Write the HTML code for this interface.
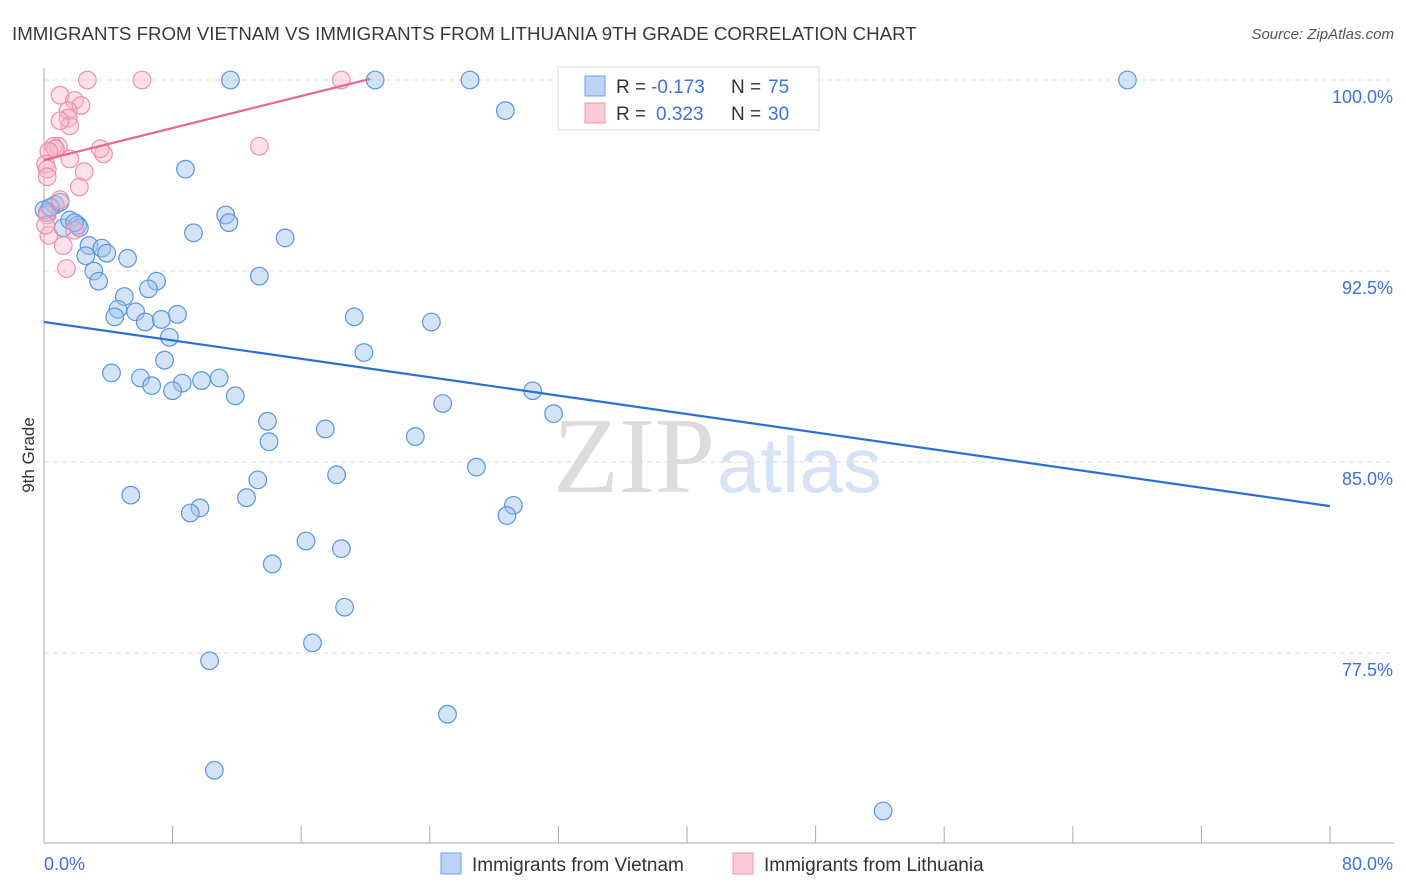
<!DOCTYPE html>
<html><head><meta charset="utf-8"><style>
body{margin:0;background:#fff;font-family:"Liberation Sans",sans-serif;}
#wrap{position:relative;width:1406px;height:892px;overflow:hidden;}
</style></head><body>
<div id="wrap">
<svg id="svg" width="1406" height="892" xmlns="http://www.w3.org/2000/svg">
<text x="12" y="40" font-size="18.7" fill="#3a3a3a">IMMIGRANTS FROM VIETNAM VS IMMIGRANTS FROM LITHUANIA 9TH GRADE CORRELATION CHART</text>
<text x="1394" y="39" font-size="15" fill="#555" font-style="italic" text-anchor="end">Source: ZipAtlas.com</text>
<text x="553" y="492" font-size="108" fill="#dcdcdc" font-family="Liberation Serif,serif">ZIP</text>
<text x="717" y="492" font-size="78" fill="#d5e3f5">atlas</text>
<g id="grid"></g><g id="axes"></g><g id="pts"></g><g id="lines"></g>
<text x="34" y="455" font-size="17" fill="#333" text-anchor="middle" transform="rotate(-90 34 455)">9th Grade</text>
<text x="44" y="870" font-size="18" fill="#3b73d6">0.0%</text>
<text x="1393" y="870" font-size="18" fill="#3b73d6" text-anchor="end">80.0%</text>
<g>
<rect x="558" y="67" width="261" height="63" fill="#fff" stroke="#ddd"/>
<rect x="585" y="76" width="20" height="20" fill="#bcd4f5" stroke="#6f9fe6"/>
<text x="616" y="93" font-size="19" fill="#333">R =</text>
<text x="651" y="93" font-size="19" fill="#3b73d6">-0.173</text>
<text x="731" y="93" font-size="19" fill="#333">N =</text>
<text x="768" y="93" font-size="19" fill="#3b73d6">75</text>
<rect x="585" y="103" width="20" height="20" fill="#fbcad7" stroke="#ef95ae"/>
<text x="616" y="120" font-size="19" fill="#333">R =</text>
<text x="656" y="120" font-size="19" fill="#3b73d6">0.323</text>
<text x="731" y="120" font-size="19" fill="#333">N =</text>
<text x="768" y="120" font-size="19" fill="#3b73d6">30</text>
</g>
<g>
<rect x="441" y="853" width="20" height="21" fill="#bcd4f5" stroke="#6f9fe6"/>
<text x="472" y="871" font-size="19" fill="#333">Immigrants from Vietnam</text>
<rect x="733" y="853" width="20" height="21" fill="#fbcad7" stroke="#ef95ae"/>
<text x="764" y="871" font-size="19" fill="#333">Immigrants from Lithuania</text>
</g>
</svg>
</div>
<script>
const blueX=[11.6,20.6,26.5,67.4,28.7,8.8,11.3,11.5,9.3,15.0,0.7,0.2,1.0,1.2,1.6,2.1,2.2,1.9,2.8,3.6,2.6,3.9,5.2,3.1,3.4,7.0,13.4,5.0,6.5,4.6,4.4,5.7,6.3,7.3,8.3,7.8,19.3,24.1,7.5,19.9,4.2,6.0,6.7,8.6,8.0,9.8,10.9,11.9,30.4,24.8,31.7,13.9,14.0,17.5,23.1,26.9,18.2,13.3,5.4,12.6,9.7,9.1,29.2,28.8,16.3,18.5,14.2,18.7,16.7,10.3,25.1,10.6,52.2,0.0,0.4];
const blueY=[100.0,100.0,100.0,100.0,98.8,96.5,94.7,94.4,94.0,93.8,95.1,94.8,95.2,94.2,94.5,94.3,94.2,94.4,93.5,93.4,93.1,93.2,93.0,92.5,92.1,92.1,92.3,91.5,91.8,91.0,90.7,90.9,90.5,90.6,90.8,89.9,90.7,90.5,89.0,89.3,88.5,88.3,88.0,88.1,87.8,88.2,88.3,87.6,87.8,87.3,86.9,86.6,85.8,86.3,86.0,84.8,84.5,84.3,83.7,83.6,83.2,83.0,83.3,82.9,81.9,81.6,81.0,79.3,77.9,77.2,75.1,72.9,71.3,94.9,95.0];
const pinkX=[1.0,1.9,2.3,2.7,6.1,18.5,1.5,1.5,1.6,1.0,0.9,0.6,0.7,0.3,0.1,0.2,0.2,3.7,3.5,13.4,1.6,2.5,2.2,1.0,0.2,1.2,1.9,1.4,0.3,0.1];
const pinkY=[99.4,99.2,99.0,100.0,100.0,100.0,98.8,98.5,98.2,98.4,97.4,97.4,97.3,97.2,96.7,96.5,96.2,97.1,97.3,97.4,96.9,96.4,95.8,95.3,94.7,93.5,94.1,92.6,93.9,94.3];
const blueTrend=[90.5,83.27];
const pinkTrend=[96.86,100.04,20.28];
const yTicks=[100,92.5,85,77.5];
const yTickLabels=["100.0%","92.5%","85.0%","77.5%"];
const xTicks=[0,8,16,24,32,40,48,56,64,72,80];
const NS="http://www.w3.org/2000/svg";
const sx=v=>44+v*16.075, sy=v=>80+(100-v)*25.47;
function mk(p,t,a){const e=document.createElementNS(NS,t);for(const k in a)e.setAttribute(k,a[k]);document.getElementById(p).appendChild(e);return e;}
yTicks.forEach((v,i)=>{
 const l=mk('grid','line',{x1:44,x2:1394,y1:sy(v),y2:sy(v),stroke:'#dcdcdc','stroke-dasharray':'5,4'});
 
 
 const t=mk('grid','text',{x:1393,y:sy(v)+23,'font-size':18,fill:'#3b73d6','text-anchor':'end'});
 t.textContent=yTickLabels[i];
 
 
});
const ax=mk('axes','line',{x1:44,x2:44,y1:68,y2:843,stroke:'#aaa'});


const bx=mk('axes','line',{x1:44,x2:1394,y1:843,y2:843,stroke:'#aaa'});


xTicks.forEach(v=>{const t=mk('axes','line',{x1:sx(v),x2:sx(v),y1:826,y2:843,stroke:'#aaa'});
 
 });
blueX.forEach((x,i)=>{const c=mk('pts','circle',{cx:sx(x),cy:sy(blueY[i]),r:8.8,fill:'rgba(160,196,240,0.45)',stroke:'#5d93e0','stroke-width':1.2});
 
 });
pinkX.forEach((x,i)=>{const c=mk('pts','circle',{cx:sx(x),cy:sy(pinkY[i]),r:8.8,fill:'rgba(248,180,200,0.4)',stroke:'#ef8fab','stroke-width':1.2});
 
 });
const bl=mk('lines','line',{x1:sx(0),y1:sy(blueTrend[0]),x2:sx(80),y2:sy(blueTrend[1]),stroke:'#2a6fd6','stroke-width':2.2});


const pl=mk('lines','line',{x1:sx(0),y1:sy(pinkTrend[0]),x2:sx(pinkTrend[2]),y2:sy(pinkTrend[1]),stroke:'#e8668e','stroke-width':2.2});


</script>
</body></html>
